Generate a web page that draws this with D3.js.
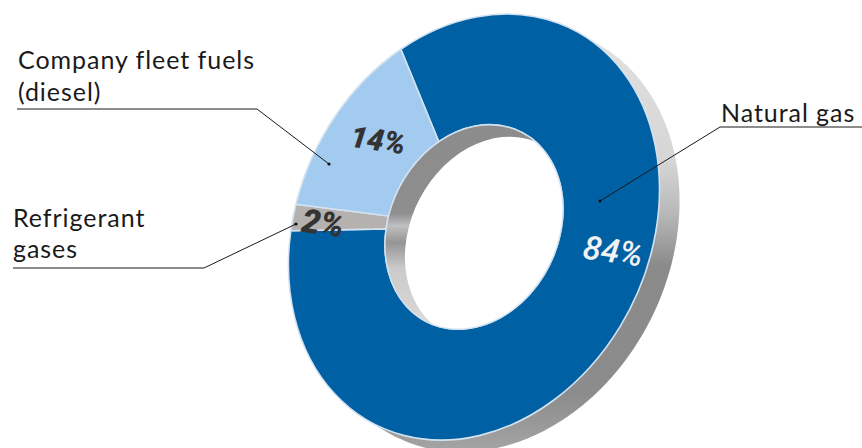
<!DOCTYPE html>
<html><head><meta charset="utf-8">
<script src="https://cdn.jsdelivr.net/npm/d3@7"></script>
<style>html,body{margin:0;padding:0;background:#fff}svg{display:block}
text{font-family:Lato,sans-serif}</style></head>
<body><svg id="c" width="862" height="448"></svg>
<script>
const categories = ["Natural gas","Refrigerant gases","Company fleet fuels (diesel)"];
const values = [84,2,14];
const valueLabels = ["84%","2%","14%"];
const colors = ["#0060a4","#b4b1ae","#a3cbef"];
const labelColors = ["#f2f2f2","#333333","#333333"];

const svg = d3.select("#c");
const cx=474, cy=227;
// tilted-disc projection of a unit circle
const A=[184.7,-17.64,-17.64,212.3];
const innerRatio=0.48;
const depth={x:20,y:12};
const matrix=(dx=0,dy=0)=>`matrix(${A[0]},${A[2]},${A[1]},${A[3]},${cx+dx},${cy+dy})`;
const project=(a,r)=>{const u=r*Math.sin(a),v=-r*Math.cos(a);return [cx+A[0]*u+A[1]*v,cy+A[2]*u+A[3]*v];};

const defs=svg.append("defs");
function grad(id,y1,y2,stops){
  const g=defs.append("linearGradient").attr("id",id).attr("gradientUnits","userSpaceOnUse")
    .attr("x1",0).attr("x2",0).attr("y1",y1).attr("y2",y2);
  stops.forEach(s=>g.append("stop").attr("offset",s[0]).attr("stop-color",s[1]));
}
grad("rim",20,460,[[0,"#e4e2e0"],[0.32,"#d6d6d6"],[0.44,"#b8b8b8"],[0.56,"#8a8a8a"],[0.85,"#8c8c8c"],[1,"#a8a8a8"]]);
grad("wall",125,335,[[0,"#8c8c8c"],[0.42,"#8e8e8e"],[0.48,"#c0c0c0"],[0.56,"#949494"],[0.68,"#cacaca"],[1,"#e0dcd8"]]);

const full=d3.arc()({innerRadius:0,outerRadius:1,startAngle:0,endAngle:2*Math.PI});
const ringArc=d3.arc().innerRadius(innerRatio).outerRadius(1);
const pie=d3.pie().sort(null).value(d=>d).startAngle(-28.7*Math.PI/180).endAngle((360-28.7)*Math.PI/180);

// extruded rim: hull of the face and its shifted copy
const ang=d3.range(0,360,1).map(d=>d*Math.PI/180);
const pts=ang.flatMap(a=>{const p=project(a,1);return [p,[p[0]+depth.x,p[1]+depth.y]];});
const hull=d3.polygonHull(pts);
svg.append("path").attr("d","M"+hull.join("L")+"Z").attr("fill","url(#rim)");

// faces
svg.append("g").attr("transform",matrix())
  .selectAll("path").data(pie(values)).join("path")
  .attr("d",ringArc).attr("fill",(d,i)=>colors[i])
  .attr("stroke","#d3e2f0").attr("stroke-width",1.6).attr("vector-effect","non-scaling-stroke");

// hole wall and see-through opening
defs.append("clipPath").attr("id","hole").append("path")
  .attr("transform",matrix()+` scale(${innerRatio})`).attr("d",full);
const hole=svg.append("g").attr("clip-path","url(#hole)");
hole.append("rect").attr("x",360).attr("y",110).attr("width",230).attr("height",240).attr("fill","url(#wall)");
hole.append("path")
  .attr("transform",matrix(depth.x,depth.y)+` scale(${innerRatio})`).attr("d",full).attr("fill","#fff");
svg.append("path").attr("transform",matrix()+` scale(${innerRatio})`).attr("d",full).attr("fill","none")
  .attr("stroke","#d3e2f0").attr("stroke-width",1.4).attr("vector-effect","non-scaling-stroke");

// percentage labels
const valuePos=[[613,251,33,500],[323,223,33,900],[378,140,30,900]];
svg.append("g").selectAll("text").data(valueLabels).join("text")
  .attr("transform",(d,i)=>`translate(${valuePos[i][0]},${valuePos[i][1]}) rotate(8)`)
  .attr("text-anchor","middle").attr("dominant-baseline","central")
  .attr("font-size",(d,i)=>valuePos[i][2]).attr("font-weight",(d,i)=>valuePos[i][3])
  .attr("font-style","italic").attr("fill",(d,i)=>labelColors[i])
  .style("font-family","Roboto,sans-serif").text(d=>d);

// leader lines
const leaders=[
  [[862,127],[720,127],[600,201]],
  [[13,268],[204,268],[296,224]],
  [[17,109],[257,109],[329,164]]
];
const line=d3.line();
svg.append("g").selectAll("path").data(leaders).join("path")
  .attr("d",line).attr("fill","none").attr("stroke","#1a1a1a").attr("stroke-width",1);
svg.append("g").selectAll("circle").data(leaders).join("circle")
  .attr("cx",d=>d[2][0]).attr("cy",d=>d[2][1]).attr("r",1.6).attr("fill","#111");

// category labels
const textLines=[
  {t:"Natural gas",x:721,y:122},
  {t:"Refrigerant",x:13,y:227},
  {t:"gases",x:13,y:258},
  {t:"Company fleet fuels",x:18,y:69},
  {t:"(diesel)",x:18,y:101}
];
svg.append("g").selectAll("text").data(textLines).join("text")
  .attr("x",d=>d.x).attr("y",d=>d.y).attr("font-size",25).attr("letter-spacing",0.95).attr("fill","#1a1a1a").text(d=>d.t);
</script></body></html>
